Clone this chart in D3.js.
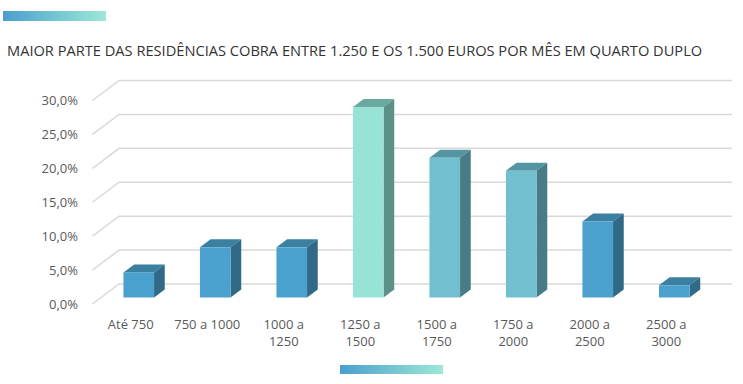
<!DOCTYPE html>
<html>
<head>
<meta charset="utf-8">
<script src="https://cdn.jsdelivr.net/npm/d3@7"></script>
<style>
  body { margin: 0; background: #fff; }
  svg { display: block; font-family: "Open Sans", sans-serif; }
</style>
</head>
<body>
<script>
// data
const categories = ["Até 750", "750 a 1000", "1000 a 1250", "1250 a 1500", "1500 a 1750", "1750 a 2000", "2000 a 2500", "2500 a 3000"];
const labelLines = [["Até 750"], ["750 a 1000"], ["1000 a", "1250"], ["1250 a", "1500"], ["1500 a", "1750"], ["1750 a", "2000"], ["2000 a", "2500"], ["2500 a", "3000"]];
const values = [3.7, 7.4, 7.4, 28.1, 20.6, 18.7, 11.2, 1.8];
const colorGroup = ["blue", "blue", "blue", "mint", "teal", "teal", "blue", "blue"];
const yTicks = [0, 5, 10, 15, 20, 25, 30];
const title = "MAIOR PARTE DAS RESIDÊNCIAS COBRA ENTRE 1.250 E OS 1.500 EUROS POR MÊS EM QUARTO DUPLO";

const palette = {
    blue: { front: "#4ba1cd", top: "#3b80a1", side: "#316a86" },
    mint: { front: "#98e3d6", top: "#6ba89e", side: "#5d9088" },
    teal: { front: "#72bfcf", top: "#5495a3", side: "#477c87" }
};

const W = 743, H = 384;
const svg = d3.select("body").append("svg")
    .attr("width", W)
    .attr("height", H);

const defs = svg.append("defs");
const grad = defs.append("linearGradient").attr("id", "deco");
grad.append("stop").attr("offset", "0%").attr("stop-color", "#4a9fce");
grad.append("stop").attr("offset", "100%").attr("stop-color", "#9de8d6");

// decoration bars
svg.append("rect").attr("x", 3).attr("y", 11).attr("width", 103).attr("height", 10).attr("fill", "url(#deco)");
svg.append("rect").attr("x", 340).attr("y", 365).attr("width", 103).attr("height", 9).attr("fill", "url(#deco)");

// title
const t = svg.append("text")
    .attr("x", 7)
    .attr("y", 56)
    .attr("fill", "#333")
    .style("font-size", "15px")
    .text(title);
const tw = t.node().getComputedTextLength();
if (tw > 0) t.style("font-size", (15 * 696 / tw).toFixed(2) + "px");

// scales
const yBack = d3.scaleLinear().domain([0, 30]).range([284, 80.5]);   // back wall
const yBar = d3.scaleLinear().domain([0, 30]).range([297.5, 94]);   // bar front
const x = d3.scaleBand()
    .domain(categories)
    .range([100.5, 712.5])
    .paddingInner(0.6)
    .paddingOuter(0.3);

const depthX = 26.5, depthY = 20;      // floor depth
const barDX = 10.7, barDY = 8;         // bar depth
const wallX = 119, wallRight = 732;

// gridlines
const grid = svg.append("g")
    .attr("stroke", "#d9d9d9")
    .attr("stroke-width", 1.5)
    .attr("fill", "none");
grid.selectAll("path")
    .data(yTicks)
    .join("path")
    .attr("d", d => `M${wallX - depthX},${yBack(d) + depthY}L${wallX},${yBack(d)}L${wallRight},${yBack(d)}`);

// y labels
svg.append("g")
    .selectAll("text")
    .data(yTicks)
    .join("text")
    .attr("x", 78)
    .attr("y", d => yBack(d) + depthY)
    .attr("dy", "0.35em")
    .attr("text-anchor", "end")
    .attr("fill", "#595959")
    .style("font-size", "13px")
    .text(d => d3.format(".1f")(d).replace(".", ",") + "%");

// bars
const bars = svg.append("g")
    .selectAll("g")
    .data(categories.map((c, i) => ({ c, v: values[i], col: palette[colorGroup[i]] })))
    .join("g");

const bw = x.bandwidth();
bars.append("path")
    .attr("fill", d => d.col.top)
    .attr("d", d => {
        const x0 = x(d.c), y0 = yBar(d.v);
        return `M${x0},${y0}L${x0 + barDX},${y0 - barDY}L${x0 + bw + barDX},${y0 - barDY}L${x0 + bw},${y0}Z`;
    });
bars.append("path")
    .attr("fill", d => d.col.side)
    .attr("d", d => {
        const x1 = x(d.c) + bw, y0 = yBar(d.v), yb = yBar(0);
        return `M${x1},${y0}L${x1 + barDX},${y0 - barDY}L${x1 + barDX},${yb - barDY}L${x1},${yb}Z`;
    });
bars.append("rect")
    .attr("fill", d => d.col.front)
    .attr("x", d => x(d.c))
    .attr("y", d => yBar(d.v))
    .attr("width", bw)
    .attr("height", d => yBar(0) - yBar(d.v));

// x labels
svg.append("g")
    .selectAll("text")
    .data(categories.map((c, i) => ({ c, lines: labelLines[i] })))
    .join("text")
    .attr("text-anchor", "middle")
    .attr("fill", "#595959")
    .style("font-size", "13px")
    .each(function(d) {
        d3.select(this).selectAll("tspan")
            .data(d.lines)
            .join("tspan")
            .attr("x", x(d.c) + bw / 2 - 8)
            .attr("y", (l, j) => 324 + j * 17.5)
            .attr("dy", "0.35em")
            .text(l => l);
    });
</script>
</body>
</html>
